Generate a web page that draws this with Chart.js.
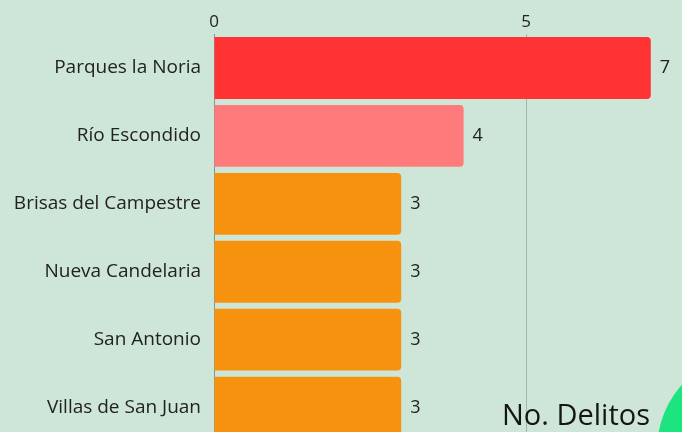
<!DOCTYPE html>
<html>
<head>
<meta charset="utf-8">
<script src="https://cdn.jsdelivr.net/npm/chart.js@4.4.1/dist/chart.umd.min.js"></script>
<style>
  html, body { margin: 0; padding: 0; width: 682px; height: 432px; overflow: hidden; background: #cee6d7; }
  #wrap { position: relative; width: 682px; height: 432px; overflow: hidden; }
  #delitosChart { position: absolute; left: 0; top: 0; }
  .circle { position: absolute; left: 657px; top: 352px; width: 196px; height: 196px; border-radius: 50%; background: #1de47f; }
  .caption { position: absolute; left: 502px; top: 399px; font-family: "Open Sans", sans-serif; font-size: 29px; line-height: 1; color: #151515; }
</style>
</head>
<body>
<div id="wrap">
  <canvas id="delitosChart" width="682" height="466"></canvas>
  <div class="circle"></div>
  <div class="caption">No. Delitos</div>
</div>
<script>
const colonias = [
  "Parques la Noria", "Río Escondido", "Brisas del Campestre",
  "Nueva Candelaria", "San Antonio", "Villas de San Juan"
];
const delitos = [7, 4, 3, 3, 3, 3];
const barColors = ["#ff3333", "#ff7b7b", "#f7920f", "#f7920f", "#f7920f", "#f7920f"];

const FONT = "'Open Sans', sans-serif";

// value labels at the end of each bar
const valueLabels = {
  id: "valueLabels",
  afterDatasetsDraw(chart) {
    const ctx = chart.ctx;
    const meta = chart.getDatasetMeta(0);
    ctx.save();
    ctx.font = "18px " + FONT;
    ctx.fillStyle = "#222";
    ctx.textBaseline = "middle";
    ctx.textAlign = "left";
    meta.data.forEach((bar, i) => {
      ctx.fillText(delitos[i], bar.x + 9, bar.y);
    });
    ctx.restore();
  }
};

const ctx = document.getElementById("delitosChart").getContext("2d");

new Chart(ctx, {
  type: "bar",
  data: {
    labels: colonias,
    datasets: [{
      label: "No. Delitos",
      data: delitos,
      backgroundColor: barColors,
      borderRadius: 4,
      borderSkipped: "start",
      barPercentage: 0.91,
      categoryPercentage: 1
    }]
  },
  options: {
    indexAxis: "y",
    responsive: false,
    animation: false,
    layout: { padding: 0 },
    plugins: {
      legend: { display: false },
      tooltip: { enabled: false }
    },
    scales: {
      x: {
        position: "top",
        min: 0,
        max: 7.5,
        ticks: {
          stepSize: 5,
          padding: 2,
          color: "#222",
          font: { family: FONT, size: 17 }
        },
        afterBuildTicks: s => { s.ticks = s.ticks.filter(t => t.value % 5 === 0); },
        grid: { color: "#a9b3ad", drawTicks: false },
        border: { display: false },
        afterFit: s => { s.height = 34; }
      },
      y: {
        ticks: {
          padding: 13,
          color: "#222",
          font: { family: FONT, size: 19 }
        },
        grid: { display: false, drawTicks: false },
        border: { color: "#8a948e", width: 1 },
        afterFit: s => { s.width = 214; }
      }
    }
  },
  plugins: [valueLabels]
});
</script>
</body>
</html>
